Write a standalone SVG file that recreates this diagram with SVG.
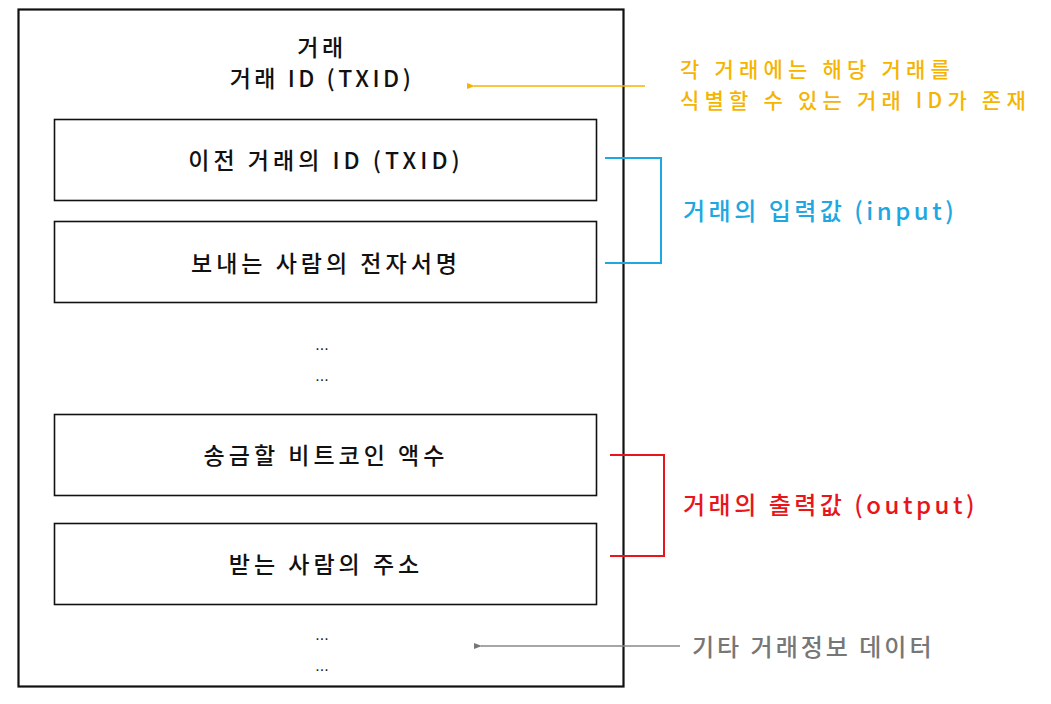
<svg xmlns="http://www.w3.org/2000/svg" width="1051" height="704" viewBox="0 0 1051 704">
<style>
.box{fill:#fff;stroke:#111;stroke-width:1.6}
.t{font-family:"Noto Sans CJK KR","Noto Sans",sans-serif;font-size:23px;font-weight:500;letter-spacing:4px;fill:#111;text-anchor:middle}
.tt{letter-spacing:3.5px}
.dots{font-family:"Liberation Sans",sans-serif;font-size:16px;fill:#222;text-anchor:middle}
.lab{font-family:"Noto Sans CJK KR","Noto Sans",sans-serif;font-size:24px;font-weight:500;letter-spacing:3.5px}
.ylab{font-size:21px;letter-spacing:5.2px;fill:#f5b400}
</style>
<defs>
<marker id="ay" markerWidth="8" markerHeight="8" refX="1" refY="4" orient="auto" markerUnits="userSpaceOnUse"><path d="M8,1 L0,4 L8,7 Z" fill="#f5b400"/></marker>
<marker id="ag" markerWidth="8" markerHeight="8" refX="1" refY="4" orient="auto" markerUnits="userSpaceOnUse"><path d="M8,1 L0,4 L8,7 Z" fill="#777"/></marker>
</defs>
<rect width="1051" height="704" fill="#fff"/>
<g id="outer">
<rect x="18.5" y="9.5" width="605" height="677" fill="#fff" stroke="#111" stroke-width="2.2"/>
<text class="t tt" x="322" y="56">거래</text>
<text class="t tt" x="322" y="87">거래 ID (TXID)</text>
<text class="dots" x="322" y="350">...</text>
<text class="dots" x="322" y="381">...</text>
<text class="dots" x="322" y="640">...</text>
<text class="dots" x="322" y="671">...</text>
</g>
<g id="n1"><rect class="box" x="54.5" y="119.5" width="542" height="81"/><text class="t" x="326" y="169">이전 거래의 ID (TXID)</text></g>
<g id="n2"><rect class="box" x="54.5" y="221.5" width="542" height="81"/><text class="t" x="326" y="272">보내는 사람의 전자서명</text></g>
<g id="n3"><rect class="box" x="54.5" y="414.5" width="542" height="81"/><text class="t" x="326" y="464">송금할 비트코인 액수</text></g>
<g id="n4"><rect class="box" x="54.5" y="523.5" width="542" height="81"/><text class="t" x="326" y="573">받는 사람의 주소</text></g>
<g id="connectors">
<line x1="645" y1="86" x2="474" y2="86" stroke="#f5b400" stroke-width="1.5" marker-end="url(#ay)"/>
<polyline points="605,158 661,158 661,263 605,263" fill="none" stroke="#1ea7e0" stroke-width="2"/>
<polyline points="610,455 664,455 664,556 610,556" fill="none" stroke="#e8151b" stroke-width="2"/>
<line x1="680" y1="646" x2="481" y2="646" stroke="#888" stroke-width="1.3" marker-end="url(#ag)"/>
</g>
<g id="labels">
<text class="lab ylab" x="680" y="77">각 거래에는 해당 거래를</text>
<text class="lab ylab" x="680" y="108">식별할 수 있는 거래 ID가 존재</text>
<text class="lab" x="683" y="220" fill="#1ea7e0">거래의 입력값 (input)</text>
<text class="lab" x="683" y="514" fill="#e8151b">거래의 출력값 (output)</text>
<text class="lab" x="692" y="656" fill="#777" style="letter-spacing:3px">기타 거래정보 데이터</text>
</g>
</svg>
